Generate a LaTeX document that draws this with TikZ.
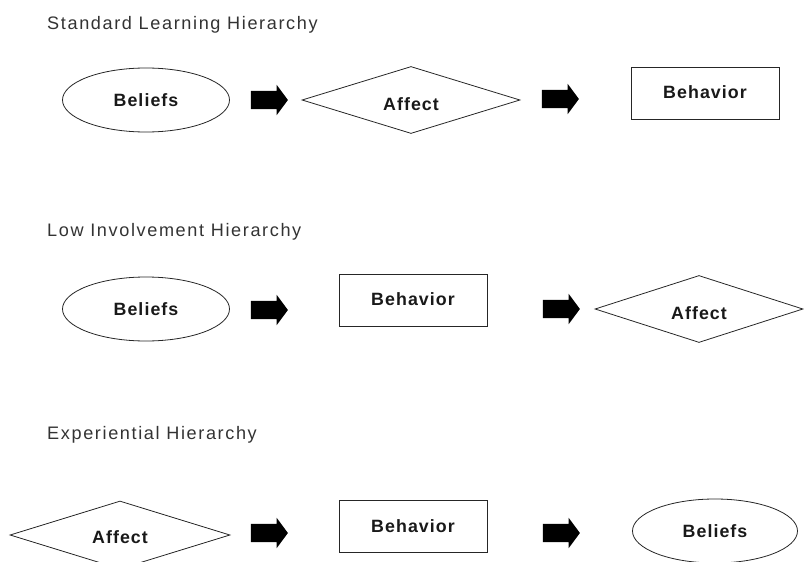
\documentclass[tikz,border=0pt]{standalone}
\usepackage{fontspec}
\setmainfont{Liberation Sans}
\usetikzlibrary{shapes.geometric,shapes.arrows}
\newfontfamily\titlefont[LetterSpace=9]{Liberation Sans}
\newfontfamily\labelfont[LetterSpace=6]{Liberation Sans}

\tikzset{
  outline/.style={draw=black!85, line width=0.8pt},
  title/.style={anchor=base west, inner sep=0pt, text=black!80,
    font=\titlefont\fontsize{18.1pt}{21pt}\selectfont},
  lbl/.style={font=\labelfont\bfseries\fontsize{17.8pt}{20pt}\selectfont, text=black!90},
  beliefs/.style={outline, lbl, ellipse, inner sep=0pt,
    minimum width=167pt, minimum height=64pt},
  affect/.style={outline, diamond, inner sep=0pt,
    minimum width=#1, minimum height=67pt},
  affect/.default=216pt,
  behavior/.style={outline, lbl, rectangle, inner sep=0pt,
    minimum width=148pt, minimum height=52pt},
  affectlbl/.style={lbl, yshift=-4pt},
  blockarrow/.style={single arrow, fill=black, draw=none, inner sep=9pt,
    single arrow head extend=6pt, single arrow tip angle=107,
    minimum height=37pt}
}

\begin{document}
\begin{tikzpicture}[x=1pt, y=-1pt]
\useasboundingbox (0,0) rectangle (804,562);
\clip (0,0) rectangle (804,562);

% Standard learning hierarchy: beliefs -> affect -> behavior
\node[title] (t1) at (47,29) {Standard Learning Hierarchy};
\node[beliefs] (b1) at (146,100) {Beliefs};
\node[blockarrow] (a11) at (266,100) {};
\node[affect=218pt, label={[affectlbl]center:Affect}] (f1) at (411,100) {};
\node[blockarrow] (a12) at (557,99) {};
\node[behavior] (h1) at (705,93) {\raisebox{1.5pt}{Behavior}};

% Low involvement hierarchy: beliefs -> behavior -> affect
\node[title] (t2) at (47,236) {Low Involvement Hierarchy};
\node[beliefs] (b2) at (146,309) {Beliefs};
\node[blockarrow] (a21) at (266,310) {};
\node[behavior] (h2) at (413,300) {\raisebox{1.5pt}{Behavior}};
\node[blockarrow] (a22) at (558,309) {};
\node[affect=208pt, label={[affectlbl]center:Affect}] (f2) at (699,309) {};

% Experiential hierarchy: affect -> behavior -> beliefs
\node[title] (t3) at (47,439) {Experiential Hierarchy};
\node[affect=220pt, minimum height=68pt, label={[affectlbl, yshift=2pt]center:Affect}] (f3) at (120,535) {};
\node[blockarrow] (a31) at (266,533) {};
\node[behavior] (h3) at (413,526.5) {\raisebox{1.5pt}{Behavior}};
\node[blockarrow] (a32) at (558,533) {};
\node[beliefs, minimum width=165pt] (b3) at (715,531) {Beliefs};
\end{tikzpicture}
\end{document}
